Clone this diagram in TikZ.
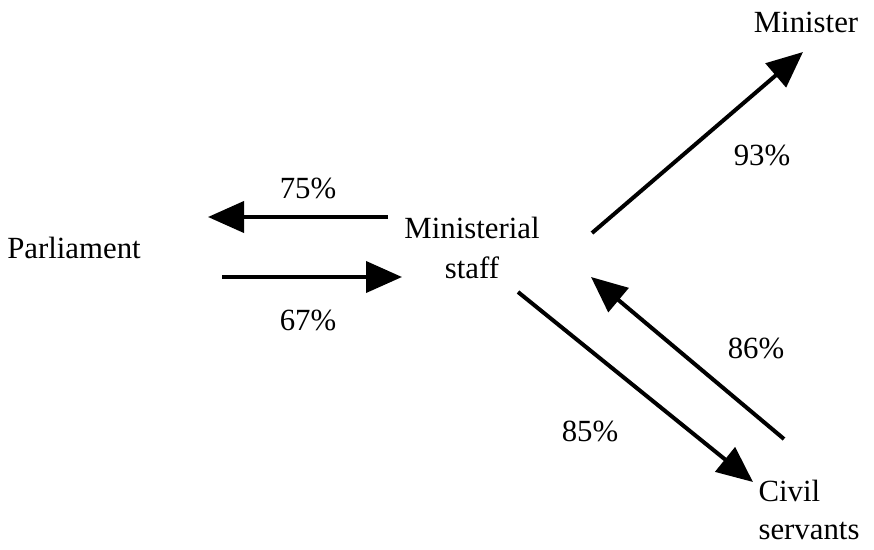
\documentclass[tikz,border=0pt]{standalone}
\usepackage{fontspec}
\setmainfont{Liberation Serif}
\usetikzlibrary{arrows.meta}

\tikzset{
  flow/.style={line width=4pt, -{Triangle[length=36pt,width=31pt]}},
  actor/.style={font=\fontsize{30.8}{40}\selectfont, align=center, inner sep=0pt},
  share/.style={font=\fontsize{30.8}{36}\selectfont, inner sep=0pt}
}

\begin{document}
\begin{tikzpicture}[x=1pt,y=-1pt]
  \useasboundingbox (0,0) rectangle (874,549);

  \node[actor] (parliament) at (74,248) {Parliament};
  \node[actor] (staff) at (472,248) {Ministerial\\staff};
  \node[actor] (minister) at (806,22) {Minister};
  \node[actor, align=left] (civil) at (809,510) {Civil\\[-2pt]servants};

  \coordinate (p-out) at (388,217);
  \coordinate (p-tip) at (208,217);
  \coordinate (s-out) at (222,277);
  \coordinate (s-tip) at (402,277);
  \coordinate (m-out) at (592,233);
  \coordinate (m-tip) at (803,52);
  \coordinate (c-out) at (518,292);
  \coordinate (c-tip) at (753,482);
  \coordinate (r-out) at (784,439);
  \coordinate (r-tip) at (591,277);

  \draw[flow] (p-out) -- (p-tip);
  \draw[flow] (s-out) -- (s-tip);
  \draw[flow] (m-out) -- (m-tip);
  \draw[flow] (c-out) -- (c-tip);
  \draw[flow] (r-out) -- (r-tip);

  \node[share] (to-parl) at (308,188) {75\%};
  \node[share] (to-staff) at (308,320) {67\%};
  \node[share] (to-min) at (762,155) {93\%};
  \node[share] (from-civ) at (756,348) {86\%};
  \node[share] (to-civ) at (590,431) {85\%};
\end{tikzpicture}
\end{document}
